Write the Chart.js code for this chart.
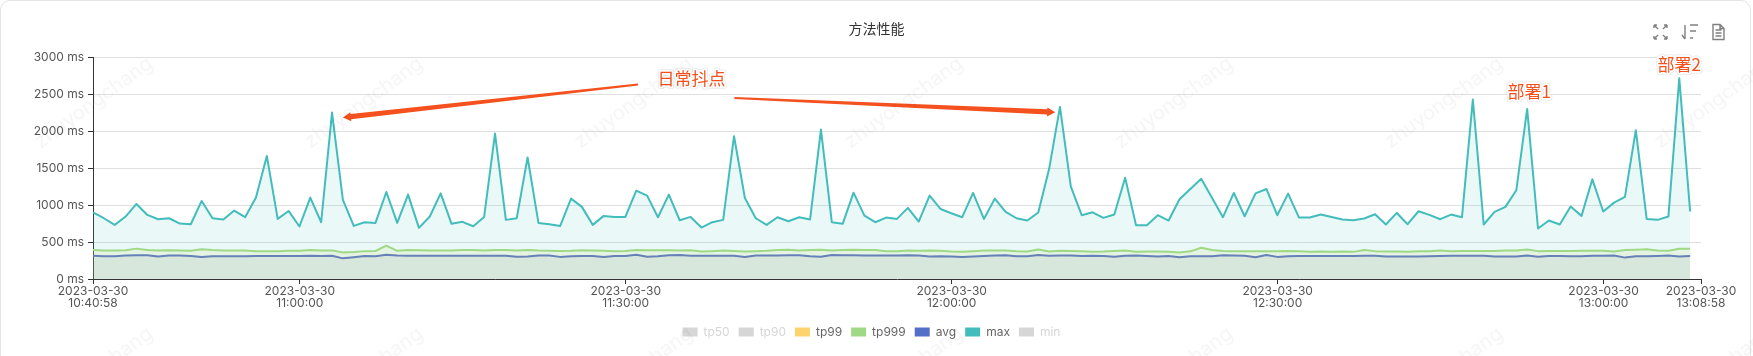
<!DOCTYPE html>
<html>
<head>
<meta charset="utf-8">
<title>方法性能</title>
<script src="https://cdn.jsdelivr.net/npm/chart.js@4"></script>
<style>
  html, body { margin: 0; padding: 0; background: #fff; overflow: hidden; }
  #card { position: absolute; left: 0; top: 0; width: 1749px; height: 400px; border: 1px solid #e4e4e4; border-radius: 10px; }
  #wrap { position: absolute; left: 0; top: 0; width: 1753px; height: 356px; }
  .mark { position: absolute; font: 20px Inter, sans-serif; color: rgba(0,0,0,0.045); transform: rotate(-36deg); white-space: nowrap; pointer-events: none; }
  #tools { position: absolute; left: 0; top: 0; }
</style>
</head>
<body>
<div id="card"></div>
<div id="wrap"><canvas id="perfChart" width="1753" height="356"></canvas></div>
<svg id="tools" width="1753" height="60" fill="none" stroke="#808080" stroke-width="1.4">
  <path d="M1654 25l4 4M1654 25v3M1654 25h3M1667 25l-4 4M1667 25v3M1667 25h-3M1654 39l4-4M1654 39v-3M1654 39h3M1667 39l-4-4M1667 39v-3M1667 39h-3"/>
  <path d="M1685 25v14M1682 35l3 4M1690 25h8M1690 31h6M1690 38h3"/>
  <path d="M1713 24.500h7l4 4v11h-11zM1720 24.500v4h4M1715.500 30h6M1715.500 33h6M1715.500 36h6"/>
</svg>
<script>
// 方法性能 – one sample per minute, values in ms

const startTime = "10:40:58";
const endTime = "13:08:58";
const dateLabel = "2023-03-30";
const tickTimes = ["10:40:58", "11:00:00", "11:30:00", "12:00:00", "12:30:00", "13:00:00", "13:08:58"];
const legendNames = ["tp50", "tp90", "tp99", "tp999", "avg", "max", "min"];

const maxValues = [
  905, 824, 734, 847, 1018, 869, 811, 824, 752, 743,
  1059, 824, 806, 928, 838, 1104, 1667, 815, 923, 712,
  1104, 770, 2257, 1072, 720, 770, 761, 1180, 761, 1144,
  694, 847, 1162, 748, 775, 716, 842, 1973, 802, 824,
  1649, 761, 743, 720, 1090, 978, 734, 856, 842, 842,
  1198, 1131, 838, 1144, 797, 842, 698, 770, 802, 1937,
  1099, 824, 734, 838, 784, 838, 806, 2027, 770, 748,
  1171, 860, 770, 833, 815, 964, 779, 1131, 950, 892,
  838, 1167, 815, 1090, 910, 824, 793, 901, 1491, 2334,
  1252, 865, 905, 829, 874, 1374, 730, 730, 865, 793,
  1081, 1221, 1360, 1099, 838, 1167, 851, 1162, 1221, 865,
  1158, 833, 833, 874, 842, 806, 797, 820, 878, 739,
  896, 743, 919, 869, 811, 874, 838, 2433, 739, 910,
  978, 1203, 2307, 685, 793, 739, 982, 856, 1352, 915,
  1036, 1113, 2018, 815, 802, 847, 2721, 915
];

const tp999Values = [
  392, 388, 388, 390, 412, 392, 388, 390, 388, 382,
  405, 392, 388, 388, 385, 378, 376, 378, 382, 382,
  392, 388, 388, 360, 365, 378, 380, 452, 382, 392,
  390, 388, 388, 385, 392, 392, 385, 392, 392, 388,
  392, 385, 382, 380, 382, 390, 385, 382, 376, 380,
  392, 390, 390, 390, 388, 390, 372, 378, 385, 380,
  372, 378, 382, 392, 398, 385, 392, 396, 385, 392,
  398, 392, 392, 376, 378, 385, 382, 388, 382, 372,
  370, 378, 385, 385, 385, 375, 372, 400, 372, 382,
  380, 375, 370, 372, 380, 385, 368, 372, 372, 368,
  360, 375, 423, 392, 380, 375, 375, 375, 375, 375,
  380, 378, 368, 372, 368, 372, 368, 392, 378, 372,
  372, 370, 375, 378, 385, 378, 380, 380, 380, 380,
  385, 385, 400, 378, 380, 380, 380, 382, 382, 382,
  372, 392, 398, 402, 385, 382, 410, 410
];

const avgValues = [
  315, 310, 310, 318, 322, 322, 305, 320, 318, 312,
  300, 308, 310, 308, 310, 312, 312, 312, 312, 312,
  315, 312, 315, 280, 295, 312, 308, 328, 318, 316,
  316, 316, 315, 315, 315, 315, 315, 315, 315, 302,
  305, 318, 318, 300, 308, 312, 312, 300, 312, 312,
  328, 302, 308, 322, 325, 315, 315, 315, 315, 315,
  298, 320, 318, 318, 322, 322, 308, 302, 325, 322,
  322, 320, 320, 318, 318, 322, 318, 305, 308, 305,
  300, 305, 312, 318, 322, 308, 310, 325, 315, 320,
  320, 312, 315, 312, 302, 315, 318, 312, 305, 312,
  295, 310, 308, 310, 322, 320, 315, 295, 325, 300,
  310, 312, 312, 312, 312, 312, 312, 315, 315, 305,
  305, 305, 305, 310, 312, 315, 315, 315, 315, 305,
  305, 305, 318, 302, 312, 312, 310, 310, 315, 315,
  320, 290, 308, 308, 312, 318, 305, 312
];

// series switched off in the legend, nothing drawn for them
const tp50Values = [];
const tp90Values = [];
const tp99Values = [];
const minValues = [];

// annotations painted on top of the chart, anchored in axis units
const arrowNotes = [
  { fromTime: "11:31:08", fromValue: 2639, toTime: "11:03:58", toValue: 2189 },
  { fromTime: "11:40:00", fromValue: 2454, toTime: "12:09:32", toValue: 2261 }
];
const textNotes = [
  { text: "日常抖点", time: "11:36:03", value: 2720 },
  { text: "部署1", time: "12:53:10", value: 2545 },
  { text: "部署2", time: "13:06:58", value: 2909 }
];

const legendColors = { tp99: "#fdd36e", tp999: "#9fd986", avg: "#546fc6", max: "#43bcbc" };
const uiFont = "Inter, 'Noto Sans', sans-serif";

function toSeconds(t) {
  const p = t.split(":").map(Number);
  return p[0] * 3600 + p[1] * 60 + p[2];
}

function toClock(s) {
  const pad = n => String(n).padStart(2, "0");
  return pad(Math.floor(s / 3600)) + ":" + pad(Math.floor(s / 60) % 60) + ":" + pad(s % 60);
}

const startSec = toSeconds(startTime);
const asPoints = values => values.map((v, i) => ({ x: startSec + i * 60, y: v }));

// watermark
[102, 372].forEach(cy => {
  for (let cx = 88; cx < 1800; cx += 270) {
    const s = document.createElement("span");
    s.className = "mark";
    s.textContent = "zhuyongchang";
    s.style.left = (cx - 65) + "px";
    s.style.top = (cy - 12) + "px";
    document.body.appendChild(s);
  }
});

const notesPlugin = {
  id: "notes",
  afterLayout(chart) {
    // legend sits a little left of the page centre
    chart.legend.left -= 5;
    chart.legend.right -= 5;
  },
  afterDraw(chart) {
    const { ctx, scales } = chart;
    const color = "#f4511e";
    ctx.save();
    ctx.fillStyle = color;
    arrowNotes.forEach(a => {
      const x0 = scales.x.getPixelForValue(toSeconds(a.fromTime));
      const y0 = scales.y.getPixelForValue(a.fromValue);
      const x1 = scales.x.getPixelForValue(toSeconds(a.toTime));
      const y1 = scales.y.getPixelForValue(a.toValue);
      const len = Math.hypot(x1 - x0, y1 - y0);
      const ux = (x1 - x0) / len, uy = (y1 - y0) / len;
      const nx = -uy, ny = ux;
      const hx = x1 - ux * 8, hy = y1 - uy * 8;
      // tapered shaft and head
      ctx.beginPath();
      ctx.moveTo(x0 + nx * 1, y0 + ny * 1);
      ctx.lineTo(hx + nx * 2.6, hy + ny * 2.6);
      ctx.lineTo(hx + nx * 4.5, hy + ny * 4.5);
      ctx.lineTo(x1, y1);
      ctx.lineTo(hx - nx * 4.5, hy - ny * 4.5);
      ctx.lineTo(hx - nx * 2.6, hy - ny * 2.6);
      ctx.lineTo(x0 - nx * 1, y0 - ny * 1);
      ctx.closePath();
      ctx.fill();
    });
    ctx.font = "17px 'Noto Sans CJK SC', sans-serif";
    ctx.textAlign = "center";
    ctx.textBaseline = "middle";
    ctx.lineJoin = "round";
    textNotes.forEach(n => {
      const x = scales.x.getPixelForValue(toSeconds(n.time));
      const y = scales.y.getPixelForValue(n.value);
      ctx.strokeStyle = "#e8e8e8";
      ctx.lineWidth = 5;
      ctx.strokeText(n.text, x, y);
      ctx.strokeStyle = "#fff";
      ctx.lineWidth = 3.5;
      ctx.strokeText(n.text, x, y);
      ctx.fillStyle = color;
      ctx.fillText(n.text, x, y);
    });
    ctx.restore();
  }
};

// round joins: the default miter overshoots the tall spikes
const lineStyle = { pointRadius: 0, borderWidth: 2, borderJoinStyle: "round", tension: 0, fill: "origin" };

new Chart(document.getElementById("perfChart"), {
  type: "line",
  plugins: [notesPlugin],
  data: {
    datasets: [
      { label: "tp50", data: asPoints(tp50Values), ...lineStyle },
      { label: "tp90", data: asPoints(tp90Values), ...lineStyle },
      { label: "tp99", data: asPoints(tp99Values), ...lineStyle },
      { label: "tp999", data: asPoints(tp999Values), borderColor: "#9fd986", backgroundColor: "rgba(200,215,110,0.16)", ...lineStyle },
      { label: "avg", data: asPoints(avgValues), borderColor: "#546fc6", backgroundColor: "rgba(84,112,170,0.10)", ...lineStyle },
      { label: "max", data: asPoints(maxValues), borderColor: "#43bcbc", backgroundColor: "rgba(67,188,188,0.11)", ...lineStyle },
      { label: "min", data: asPoints(minValues), ...lineStyle }
    ]
  },
  options: {
    responsive: false,
    animation: false,
    layout: { padding: { left: 0, right: 0, top: 0, bottom: 8 } },
    plugins: {
      title: {
        display: true,
        text: "方法性能",
        color: "#333",
        font: { family: "'Noto Sans CJK SC', sans-serif", size: 14, weight: "normal" },
        padding: { top: 20, bottom: 21 }
      },
      tooltip: { enabled: false },
      legend: {
        position: "bottom",
        labels: {
          boxWidth: 15,
          boxHeight: 9,
          padding: 9,
          font: { family: uiFont, size: 12 },
          generateLabels: () => legendNames.map((name, i) => {
            const on = legendColors[name];
            return {
              text: name,
              datasetIndex: i,
              fillStyle: on || "#d6d6d6",
              strokeStyle: on || "#d6d6d6",
              lineWidth: 0,
              fontColor: on ? "#666" : "#d6d6d6",
              hidden: false
            };
          })
        }
      }
    },
    scales: {
      x: {
        type: "linear",
        min: startSec,
        max: toSeconds(endTime),
        afterBuildTicks: axis => {
          axis.ticks = tickTimes.map(t => ({ value: toSeconds(t) }));
        },
        afterFit: axis => { axis.height = 38; },
        grid: { drawOnChartArea: false, tickColor: "#333", tickLength: 5 },
        border: { color: "#333" },
        ticks: {
          autoSkip: false,
          maxRotation: 0,
          padding: 1,
          color: "#555",
          font: { family: uiFont, size: 12, lineHeight: 1 },
          callback: v => [dateLabel, toClock(v)]
        }
      },
      y: {
        min: 0,
        max: 3000,
        afterFit: axis => { axis.width = 93; },
        grid: { color: "#e0e0e0", tickColor: "#333", tickLength: 5 },
        border: { color: "#333" },
        ticks: {
          stepSize: 500,
          padding: 4,
          color: "#555",
          font: { family: uiFont, size: 12 },
          callback: v => v + " ms"
        }
      },
      // empty axis that keeps the margin on the right while title and legend stay page centred
      rightGap: {
        position: "right",
        afterFit: axis => { axis.width = 52; },
        grid: { drawOnChartArea: false, drawTicks: false },
        border: { display: false },
        ticks: { display: false }
      }
    }
  }
});
</script>
</body>
</html>
